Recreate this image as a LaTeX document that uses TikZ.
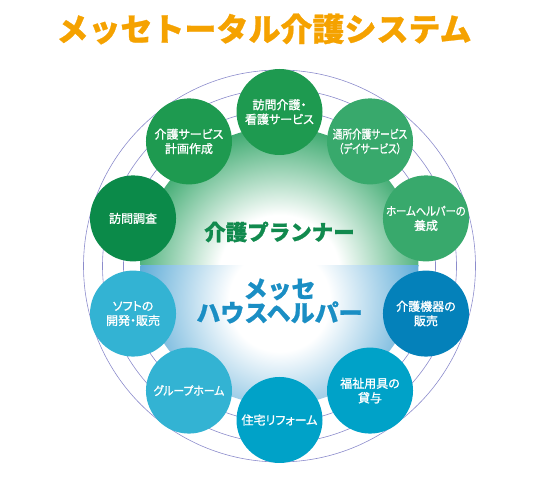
\documentclass[tikz,border=0pt]{standalone}
\usepackage{fontspec}
\usepackage{graphicx}
\usetikzlibrary{calc}
\newfontfamily\jp[RawFeature=+palt,FakeBold=1.2]{Noto Sans CJK JP}
\newfontfamily\jpt[FakeBold=0.8]{Noto Sans CJK JP}
\definecolor{titlecol}{HTML}{F5A200}
\definecolor{cgA}{HTML}{1E9A50}
\definecolor{cgB}{HTML}{0B8A49}
\definecolor{cgC}{HTML}{38A96C}
\definecolor{cbA}{HTML}{0481BA}
\definecolor{cbB}{HTML}{00A2C8}
\definecolor{cbC}{HTML}{33B3D3}
\definecolor{ringcol}{HTML}{8C8CCC}
\definecolor{gtext}{HTML}{118A4E}
\definecolor{btext}{HTML}{1A8EC4}
\definecolor{gfadecol}{HTML}{38A86C}
\definecolor{bfadecol}{HTML}{47A0D2}
\pgfdeclareradialshading{gfade}{\pgfpointorigin}{color(0bp)=(white); color(10bp)=(white); color(25bp)=(gfadecol); color(50bp)=(gfadecol)}
\pgfdeclareradialshading{bfade}{\pgfpointorigin}{color(0bp)=(white); color(8bp)=(white); color(25bp)=(bfadecol); color(50bp)=(bfadecol)}
\newcommand{\hsq}[2]{\scalebox{#1}[1]{#2}}
\begin{document}
\begin{tikzpicture}[x=1pt,y=1pt,
  svc/.style={circle, minimum size=86pt, inner sep=0pt, text=white, align=center,
    font=\jp\fontsize{12}{14.5}\selectfont},
  ring/.style={draw=ringcol, line width=0.6pt}]
\useasboundingbox (0,0) rectangle (560,481);
\coordinate (C) at (279.5,215);
% rings
\draw[ring] (C) circle (156) (C) circle (177) (C) circle (196);
% central gradient disk
\begin{scope}
  \clip (C) circle (139);
  \clip (0,215) rectangle (560,481);
  \shade[shading=gfade] ($(C)+(0,-10)$) circle (152);
\end{scope}
\begin{scope}
  \clip (C) circle (139);
  \clip (0,0) rectangle (560,215);
  \shade[shading=bfade] ($(C)+(0,-35)$) circle (158);
\end{scope}
% service circles
\node[svc, fill=cgA] (n1) at ($(C)+(90:154)$) {訪問介護・\\看護サービス};
\node[svc, fill=cgC] (n2) at ($(C)+(54:154)$) {\hsq{0.8}{通所介護サービス}\\\hsq{0.8}{（デイサービス）}};
\node[svc, fill=cgC] (n3) at ($(C)+(18:154)$) {\hsq{0.86}{ホームヘルパーの}\\養成};
\node[svc, fill=cbA] (n4) at ($(C)+(-18:154)$) {介護機器の\\販売};
\node[svc, fill=cbB] (n5) at ($(C)+(-54:154)$) {福祉用具の\\貸与};
\node[svc, fill=cbB] (n6) at ($(C)+(-90:154)$) {住宅リフォーム};
\node[svc, fill=cbC] (n7) at ($(C)+(-126:154)$) {\hsq{0.9}{グループホーム}};
\node[svc, fill=cbC] (n8) at ($(C)+(-162:154)$) {ソフトの\\開発・販売};
\node[svc, fill=cgB] (n9) at ($(C)+(162:154)$) {訪問調査};
\node[svc, fill=cgA] (n10) at ($(C)+(126:154)$) {介護サービス\\計画作成};
% center texts
\node[font=\jpt\bfseries\fontsize{21.5}{24}\selectfont, text=gtext] (planner) at (279.5,249) {介護プランナー};
\node[font=\jpt\bfseries\fontsize{24}{23}\selectfont, text=btext, align=center] (helper) at (279.5,180) {メッセ\\ハウスヘルパー};
% title
\node[font=\jpt\bfseries\fontsize{32}{32}\selectfont, text=titlecol] (title) at (264,452) {メッセトータル介護システム};
\end{tikzpicture}
\end{document}
